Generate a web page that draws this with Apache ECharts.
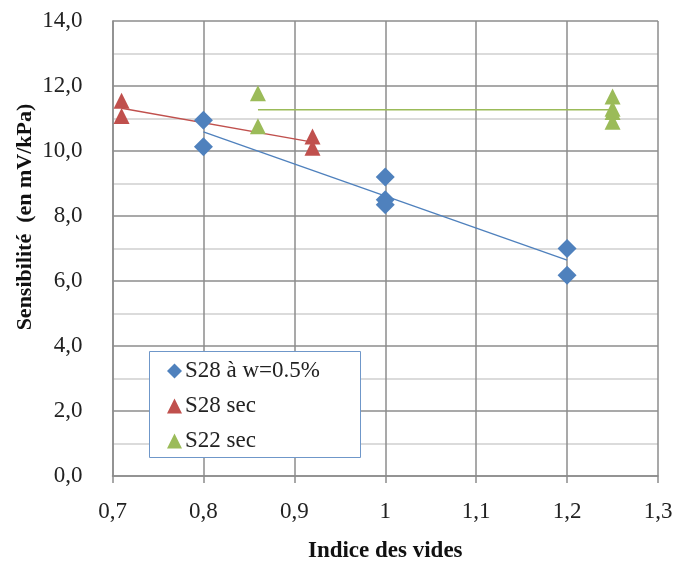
<!DOCTYPE html>
<html><head><meta charset="utf-8">
<script src="https://cdn.jsdelivr.net/npm/echarts@6/dist/echarts.min.js"></script>
<style>html,body{margin:0;padding:0;background:#fff}#c{width:675px;height:564px}</style>
</head><body><div id="c"></div>
<script>
var xTicks = ['0,7','0,8','0,9','1','1,1','1,2','1,3'];
var yTicks = ['0,0','2,0','4,0','6,0','8,0','10,0','12,0','14,0'];
var s28wX = [0.8, 0.8, 1.0, 1.0, 1.0, 1.2, 1.2];
var s28wY = [10.95, 10.13, 9.2, 8.5, 8.35, 7.0, 6.18];
var s28sX = [0.71, 0.71, 0.92, 0.92];
var s28sY = [11.55, 11.08, 10.45, 10.1];
var s22sX = [0.86, 0.86, 1.25, 1.25, 1.25, 1.25];
var s22sY = [11.78, 10.76, 11.68, 11.3, 11.2, 10.9];
var names = ['S28 à w=0.5%', 'S28 sec', 'S22 sec'];
var colors = ['#4F81BD', '#C0504D', '#9BBB59'];

function pairs(xs, ys){ return xs.map(function(x,i){return [x, ys[i]];}); }
function trend(xs, ys){
  var n = xs.length, mx = 0, my = 0;
  for (var i=0;i<n;i++){mx+=xs[i];my+=ys[i];}
  mx/=n; my/=n;
  var sxy=0, sxx=0;
  for (i=0;i<n;i++){sxy+=(xs[i]-mx)*(ys[i]-my); sxx+=(xs[i]-mx)*(xs[i]-mx);}
  var b = sxy/sxx, a = my - b*mx;
  var x0 = Math.min.apply(null, xs), x1 = Math.max.apply(null, xs);
  return [[x0, a+b*x0],[x1, a+b*x1]];
}
var font = '"Liberation Serif", "DejaVu Serif", serif';
var chart = echarts.init(document.getElementById('c'), null, {renderer:'canvas'});
function trendSeries(xs, ys, c){
  return {type:'line', data: trend(xs, ys), symbol:'none', silent:true,
    lineStyle:{color:c, width:1.3}, z:2};
}
function scat(name, xs, ys, sym, size, c){
  return {type:'scatter', name:name, data:pairs(xs, ys), symbol:sym, symbolSize:size,
    itemStyle:{color:c, opacity:1}, z:3};
}
chart.setOption({
  animation:false,
  backgroundColor:'#fff',
  grid:{left:112.5, top:21, right:17, bottom:88, show:false, containLabel:false, outerBoundsMode:'none'},
  xAxis:{type:'value', min:0.7, max:1.3, interval:0.1,
    name:'Indice des vides', nameLocation:'middle', nameGap:64,
    nameTextStyle:{fontFamily:font, fontWeight:'bold', fontSize:23, color:'#111'},
    axisLine:{show:true, lineStyle:{color:'#8c8c8c', width:1.5}},
    axisTick:{show:true, length:7, lineStyle:{color:'#8c8c8c', width:1.5}},
    axisLabel:{margin:24, fontFamily:font, fontSize:23, color:'#222',
      formatter:function(v){ var i = Math.round((v-0.7)*10); return xTicks[i]; }},
    splitLine:{show:true, lineStyle:{color:'#8c8c8c', width:1.5}}
  },
  yAxis:{type:'value', min:0, max:14, interval:2,
    axisLine:{show:true, lineStyle:{color:'#8c8c8c', width:1.5}},
    axisTick:{show:false},
    axisLabel:{margin:30, fontFamily:font, fontSize:23, color:'#222',
      formatter:function(v){ return yTicks[Math.round(v/2)]; }},
    splitLine:{show:true, lineStyle:{color:'#8c8c8c', width:1.5}},
    minorTick:{show:false, splitNumber:2},
    minorSplitLine:{show:true, lineStyle:{color:'#cfcfcf', width:1.5}}
  },
  legend:{show:true, orient:'vertical', left:167, top:359, z:10,
    data:[{name:names[0], icon:'diamond'},{name:names[1], icon:'triangle'},{name:names[2], icon:'triangle'}],
    itemWidth:15, itemHeight:15, itemGap:11,
    textStyle:{fontFamily:font, fontSize:23, color:'#222', lineHeight:24, padding:[0,0,0,-2]},
    backgroundColor:'transparent', borderWidth:0, padding:0
  },
  graphic:[
    {type:'rect', shape:{x:149.5, y:351.5, width:211, height:106},
      style:{fill:'#fff', stroke:'#6f97c9', lineWidth:1}, z:3},
    {type:'text', x:25, y:217, rotation:Math.PI/2,
      style:{text:'Sensibilité  (en mV/kPa)', font:'bold 22px ' + font, fill:'#111',
        textAlign:'center', textVerticalAlign:'middle'}}
  ],
  series:[
    trendSeries(s28wX, s28wY, colors[0]),
    trendSeries(s28sX, s28sY, colors[1]),
    trendSeries(s22sX, s22sY, colors[2]),
    scat(names[0], s28wX, s28wY, 'diamond', 19, colors[0]),
    scat(names[1], s28sX, s28sY, 'triangle', 16, colors[1]),
    scat(names[2], s22sX, s22sY, 'triangle', 16, colors[2])
  ]
});
</script></body></html>
